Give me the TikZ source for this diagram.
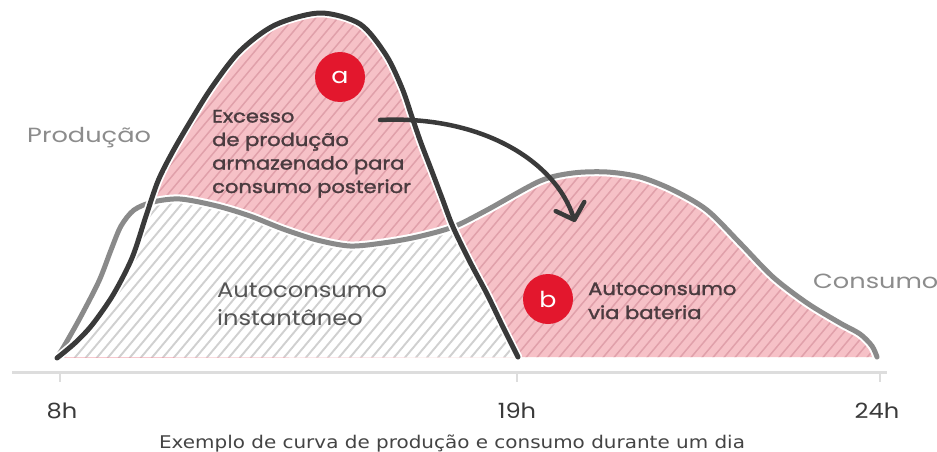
\documentclass[tikz,border=0pt]{standalone}
\usepackage{fontspec}
\setmainfont{Poppins}
\newfontfamily\capfont[FakeStretch=1.14]{DejaVu Sans}
\newfontfamily\widefont[FakeStretch=1.15]{Poppins}
\newfontfamily\medfont[FakeStretch=1.17, FakeBold=1.6]{Poppins}
\newfontfamily\sidefont[FakeStretch=1.25]{Poppins}
\usetikzlibrary{arrows.meta}
\definecolor{prodcol}{HTML}{3A3A3A}
\definecolor{conscol}{HTML}{8A8A8A}
\definecolor{pinkfill}{HTML}{F6C1C7}
\definecolor{pinkline}{HTML}{E0A0AA}
\definecolor{grayline}{HTML}{D0D0D0}
\definecolor{badge}{HTML}{E3172D}
\definecolor{lbltext}{HTML}{4A3B3F}
\definecolor{sidetext}{HTML}{8C8C8C}
\definecolor{midtext}{HTML}{555555}
\definecolor{axiscol}{HTML}{DDDDDD}
\definecolor{captext}{HTML}{444444}
\newcommand\hatchlines[1]{\foreach \k in {-40,...,90} {\draw[#1] ({\k*11},460) -- ({\k*11+390},-5);}}
\begin{document}
\begin{tikzpicture}[x=1pt,y=-1pt,
  boldlbl/.style={anchor=base west, inner sep=0, text=lbltext, font=\medfont\fontsize{18}{22}\selectfont},
  reglbl/.style={anchor=base west, inner sep=0, text=midtext, font=\widefont\fontsize{21}{25}\selectfont},
  sidelbl/.style={anchor=base west, inner sep=0, text=sidetext, font=\sidefont\fontsize{20.5}{24}\selectfont},
  ticklbl/.style={anchor=base, inner sep=0, text=prodcol, font=\widefont\fontsize{21}{25}\selectfont},
  badgestyle/.style={circle, fill=badge, minimum size=50pt, inner sep=0, text=white, font=\widefont\fontsize{22}{22}\selectfont},
  pinkhatch/.style={pinkline, line width=1.5pt},
  grayhatch/.style={grayline, line width=1.9pt},
  curvehalo/.style={white, line width=9pt, line cap=round},
  prodline/.style={prodcol, line width=5pt, line cap=round, line join=round},
  consline/.style={conscol, line width=5pt, line cap=round, line join=round},
  axisline/.style={axiscol, line width=3pt},
  tickline/.style={axiscol, line width=2.5pt},
  arrowline/.style={prodcol, line width=4.5pt, line cap=round, -{Straight Barb[length=14pt, width=30pt, round]}}
]
\useasboundingbox (0,0) rectangle (937,452);
\fill[white] (0,0) rectangle (937,452);

\def\prodpath{plot[smooth] coordinates {(57,358) (75,343) (92,325) (113,295) (132,258) (146,216) (158,181) (172,153) (190,122) (212,87) (240,51) (275,25) (320,13) (360,24) (386,55) (402,88) (412,117) (421,143) (431,169) (442,198) (453,227) (470,262) (487,294) (503,327) (518,357)}}
\def\conspath{plot[smooth] coordinates {(57,357) (63,348) (80,318) (99,281) (111,250) (121,226) (134,210) (153,202) (180,199) (217,206) (250,216) (283,229) (317,240) (350,246) (383,243) (417,237) (453,227) (487,210) (540,181) (573,173) (607,172) (640,177) (673,190) (707,210) (740,243) (773,277) (807,303) (840,323) (860,334) (872,346) (877,357)}}

% pink region a (production area)
\begin{scope}
  \clip \prodpath -- cycle;
  \fill[pinkfill] (0,0) rectangle (937,452);
  \hatchlines{pinkhatch}
\end{scope}
% pink region b (consumption after production)
\begin{scope}
  \clip (300,0) rectangle (937,452);
  \clip \conspath -- cycle;
  \fill[pinkfill] (0,0) rectangle (937,452);
  \hatchlines{pinkhatch}
\end{scope}
% instant self-consumption (intersection)
\begin{scope}
  \clip \prodpath -- cycle;
  \clip \conspath -- cycle;
  \fill[white] (0,0) rectangle (937,452);
  \hatchlines{grayhatch}
\end{scope}

% curves
\draw[curvehalo] \conspath;
\draw[consline] \conspath;
\draw[curvehalo, line width=8.5pt] \prodpath;
\draw[prodline] \prodpath;

% axis
\coordinate (axL) at (12,372);
\coordinate (axR) at (887,372);
\draw[axisline] (axL) -- (axR);
\coordinate (t8) at (60,372);
\coordinate (t19) at (517,372);
\coordinate (t24) at (880,372);
\draw[tickline] (t8) -- ++(0,10);
\draw[tickline] (t19) -- ++(0,10);
\draw[tickline] (t24) -- ++(0,10);
\node[ticklbl] (l8) at (62,418) {8h};
\node[ticklbl] (l19) at (517,418) {19h};
\node[ticklbl] (l24) at (877,418) {24h};
\node[anchor=base, inner sep=0, text=captext, font=\capfont\fontsize{17.5}{20}\selectfont] (cap) at (452,448) {Exemplo de curva de produção e consumo durante um dia};

% side labels
\node[sidelbl] (prod) at (27,142) {Produção};
\node[sidelbl] (cons) at (813,288) {Consumo};

% label a
\node[boldlbl] (ex1) at (212,122.5) {Excesso};
\node[boldlbl] (ex2) at (212,146) {de produção};
\node[boldlbl] (ex3) at (212,169.5) {armazenado para};
\node[boldlbl] (ex4) at (212,193) {consumo posterior};

% instant label
\node[reglbl] (in1) at (217,297) {Autoconsumo};
\node[reglbl] (in2) at (217,325) {instantâneo};

% label b
\node[boldlbl] (bt1) at (588,295) {Autoconsumo};
\node[boldlbl] (bt2) at (588,319) {via bateria};

% badges
\node[badgestyle] (ba) at (340,77) {a};
\node[badgestyle] (bb) at (548,299) {b};

% arrow
\coordinate (arrS) at (380,120);
\coordinate (arrE) at (575,222);
\draw[arrowline] (arrS) .. controls (480,115) and (555,160) .. (arrE);
\end{tikzpicture}
\end{document}
